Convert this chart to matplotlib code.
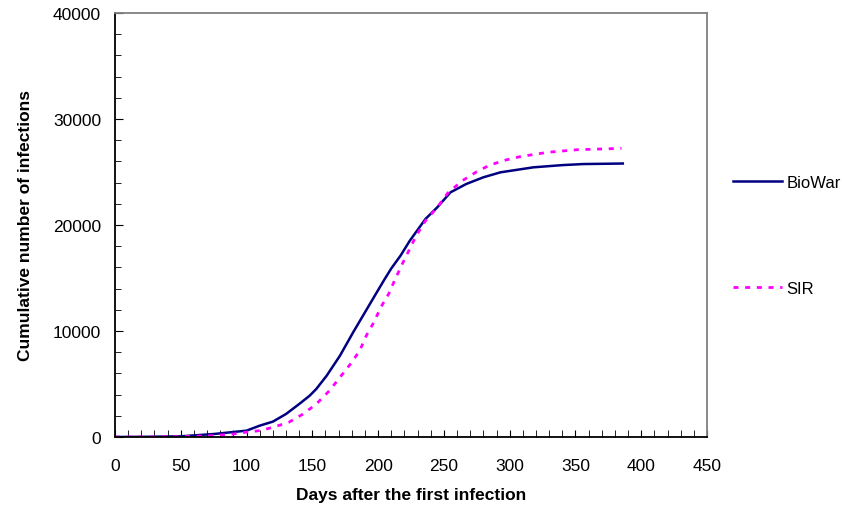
import matplotlib
matplotlib.use("Agg")
import matplotlib.pyplot as plt
from matplotlib.ticker import MultipleLocator
from matplotlib.lines import Line2D

plt.rcParams['font.family'] = ['Liberation Sans', 'DejaVu Sans']

biowar_days = [0, 25, 50, 75, 100, 110, 120, 130, 140, 148, 153, 161, 171, 181, 190,
               199, 205, 210, 217, 224, 236, 245, 255, 267, 280, 293, 318, 340, 356, 386]
biowar_vals = [0, 20, 65, 280, 600, 1070, 1450, 2170, 3110, 3900, 4530, 5800, 7670, 9870, 11760,
               13650, 14900, 15900, 17100, 18500, 20570, 21670, 23080, 23870, 24500, 24970, 25440,
               25650, 25750, 25800]

sir_days = [0, 25, 50, 75, 90, 99, 110, 120, 132, 143, 153, 163, 171, 179, 186, 191, 197, 202,
            208, 213, 218, 224, 229, 236, 245, 253, 264, 275, 285, 297, 308, 329, 351, 385]
sir_vals = [0, 5, 30, 130, 280, 440, 600, 910, 1380, 2170, 3110, 4370, 5630, 6890, 8140, 9560,
            10880, 12230, 13490, 14900, 16230, 17740, 19000, 20400, 21670, 23020, 24180, 25030,
            25660, 26130, 26450, 26860, 27100, 27230]

x_ticks = [0, 50, 100, 150, 200, 250, 300, 350, 400, 450]
y_ticks = [0, 10000, 20000, 30000, 40000]

fig = plt.figure(figsize=(8.42, 5.10), dpi=100)
ax = fig.add_axes([115/842, 72/510, (707-115)/842, (438-14)/510])

navy = '#000080'
magenta = '#FF00FF'
sir_style = (0, (1.8, 2.4))
ax.plot(biowar_days, biowar_vals, color=navy, lw=1.8, solid_joinstyle='round')
ax.plot(sir_days, sir_vals, color=magenta, lw=2.0, linestyle=sir_style)

ax.set_xlim(0, 450)
ax.set_ylim(0, 40000)
ax.set_xticks(x_ticks)
ax.set_yticks(y_ticks)
ax.xaxis.set_minor_locator(MultipleLocator(10))
ax.yaxis.set_minor_locator(MultipleLocator(2000))
ax.tick_params(axis='both', which='both', direction='in', labelsize=12.5, color='black')
ax.tick_params(axis='x', which='major', length=5, pad=15)
ax.tick_params(axis='x', which='minor', length=5)
ax.tick_params(axis='y', which='major', length=6, pad=10)
ax.tick_params(axis='y', which='minor', length=4)
ax.tick_params(top=False, right=False, which='both')

for s in ['top', 'right']:
    ax.spines[s].set_color('#808080')
    ax.spines[s].set_linewidth(1.3)
for s in ['left', 'bottom']:
    ax.spines[s].set_color('black')
    ax.spines[s].set_linewidth(1.3)

ax.set_xlabel('Days after the first infection', fontsize=12.5, fontweight='bold', labelpad=10)
ax.set_ylabel('Cumulative number of infections', fontsize=12.5, fontweight='bold', labelpad=14)

handles = [Line2D([], [], color=navy, lw=1.8),
           Line2D([], [], color=magenta, lw=2.0, linestyle=sir_style)]
fig.legend(handles, ['BioWar', 'SIR'], loc='upper left', bbox_to_anchor=(725/842, 1 - 168/510),
           frameon=False, fontsize=12, handlelength=2.9, handletextpad=0.3, labelspacing=5.45,
           borderpad=0)

fig.savefig('out.png', dpi=100)
